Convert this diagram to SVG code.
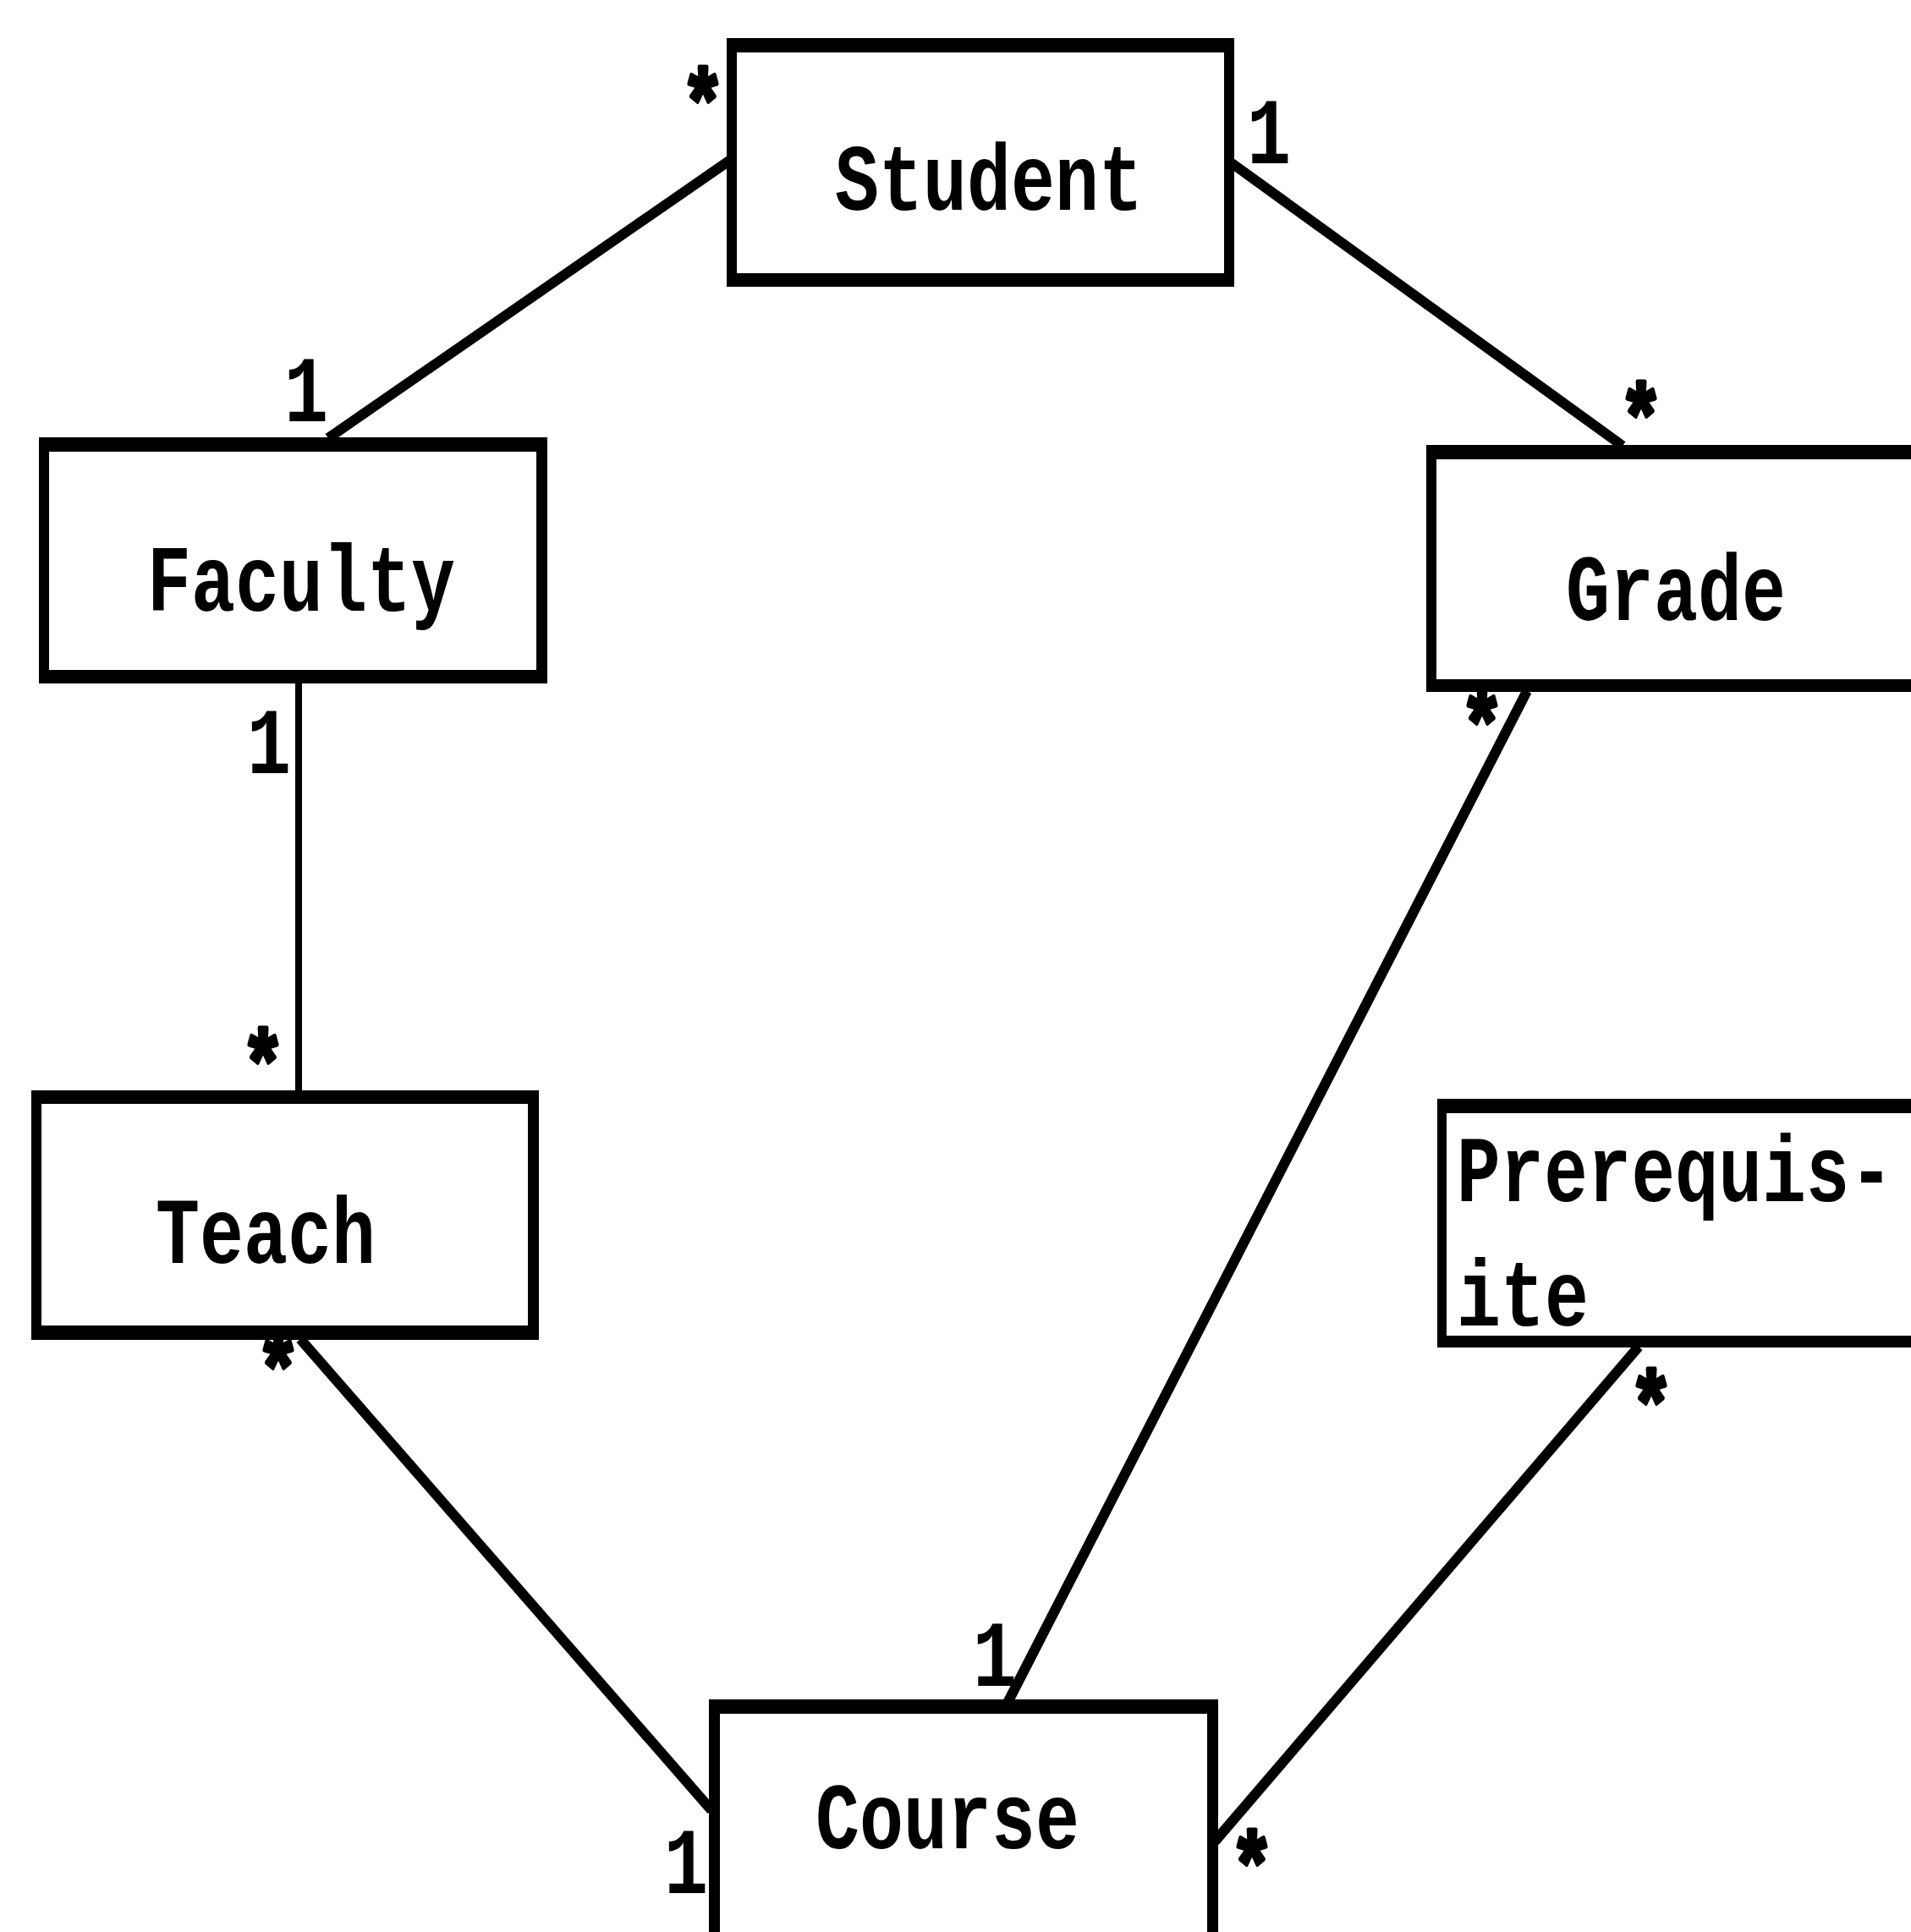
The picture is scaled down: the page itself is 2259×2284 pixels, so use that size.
<svg xmlns="http://www.w3.org/2000/svg" width="2259" height="2284" viewBox="0 0 2259 2284">
<style>
.frame{fill:#000}
.inner{fill:#fff}
.name{font-family:"Liberation Mono","DejaVu Sans Mono",monospace;font-size:112px;font-weight:bold;fill:#000}
.mult{font-family:"Liberation Mono","DejaVu Sans Mono",monospace;font-size:112px;font-weight:bold;fill:#000}
.star{stroke:#000;stroke-width:5;stroke-linejoin:round}
.conn{stroke:#000;stroke-width:12;fill:none;stroke-linecap:butt}
.vert{stroke:#000;stroke-width:8;fill:none}
</style>
<rect width="2259" height="2284" fill="#fff"/>
<g id="connectors">
<line class="conn" x1="862" y1="190" x2="388" y2="518"/>
<line class="conn" x1="1452" y1="190" x2="1918" y2="527"/>
<line class="vert" x1="353" y1="807" x2="353" y2="1290"/>
<line class="conn" x1="355" y1="1583" x2="841" y2="2140"/>
<line class="conn" x1="1805" y1="817" x2="1191" y2="2013"/>
<line class="conn" x1="1937" y1="1592" x2="1436" y2="2177"/>
</g>
<g id="student">
<rect class="frame" x="859" y="45" width="600" height="294"/>
<rect class="inner" x="871" y="62" width="576" height="261"/>
<text class="name" x="987" y="248" textLength="364" lengthAdjust="spacingAndGlyphs">Student</text>
</g>
<g id="faculty">
<rect class="frame" x="46" y="517" width="601" height="291"/>
<rect class="inner" x="58" y="534" width="576" height="258"/>
<text class="name" x="174" y="722" textLength="364" lengthAdjust="spacingAndGlyphs">Faculty</text>
</g>
<g id="teach">
<rect class="frame" x="37" y="1289" width="600" height="295"/>
<rect class="inner" x="49" y="1305" width="575" height="262"/>
<text class="name" x="184" y="1493" textLength="260" lengthAdjust="spacingAndGlyphs">Teach</text>
</g>
<g id="grade">
<rect class="frame" x="1686" y="526" width="600" height="292"/>
<rect class="inner" x="1698" y="543" width="600" height="260"/>
<text class="name" x="1851" y="733" textLength="260" lengthAdjust="spacingAndGlyphs">Grade</text>
</g>
<g id="prerequisite">
<rect class="frame" x="1699" y="1299" width="600" height="294"/>
<rect class="inner" x="1710" y="1316" width="600" height="263"/>
<text class="name" x="1722" y="1420" textLength="516" lengthAdjust="spacingAndGlyphs">Prerequis-</text>
<text class="name" x="1722" y="1567" textLength="156" lengthAdjust="spacingAndGlyphs">ite</text>
</g>
<g id="course">
<rect class="frame" x="838" y="2009" width="602" height="300"/>
<rect class="inner" x="851" y="2026" width="576" height="300"/>
<text class="name" x="964" y="2185" textLength="312" lengthAdjust="spacingAndGlyphs">Course</text>
</g>
<g id="multiplicities">
<text class="mult star" x="805" y="160" textLength="52" lengthAdjust="spacingAndGlyphs">*</text>
<text class="mult" x="1474" y="193" textLength="52" lengthAdjust="spacingAndGlyphs">1</text>
<text class="mult" x="336" y="498" textLength="52" lengthAdjust="spacingAndGlyphs">1</text>
<text class="mult star" x="1914" y="532" textLength="52" lengthAdjust="spacingAndGlyphs">*</text>
<text class="mult" x="292" y="914" textLength="52" lengthAdjust="spacingAndGlyphs">1</text>
<text class="mult star" x="1726" y="895" textLength="52" lengthAdjust="spacingAndGlyphs">*</text>
<text class="mult star" x="285" y="1296" textLength="52" lengthAdjust="spacingAndGlyphs">*</text>
<text class="mult star" x="303" y="1657" textLength="52" lengthAdjust="spacingAndGlyphs">*</text>
<text class="mult star" x="1926" y="1699" textLength="52" lengthAdjust="spacingAndGlyphs">*</text>
<text class="mult" x="1150" y="1993" textLength="52" lengthAdjust="spacingAndGlyphs">1</text>
<text class="mult" x="785" y="2238" textLength="52" lengthAdjust="spacingAndGlyphs">1</text>
<text class="mult star" x="1454" y="2244" textLength="52" lengthAdjust="spacingAndGlyphs">*</text>
</g>
</svg>
